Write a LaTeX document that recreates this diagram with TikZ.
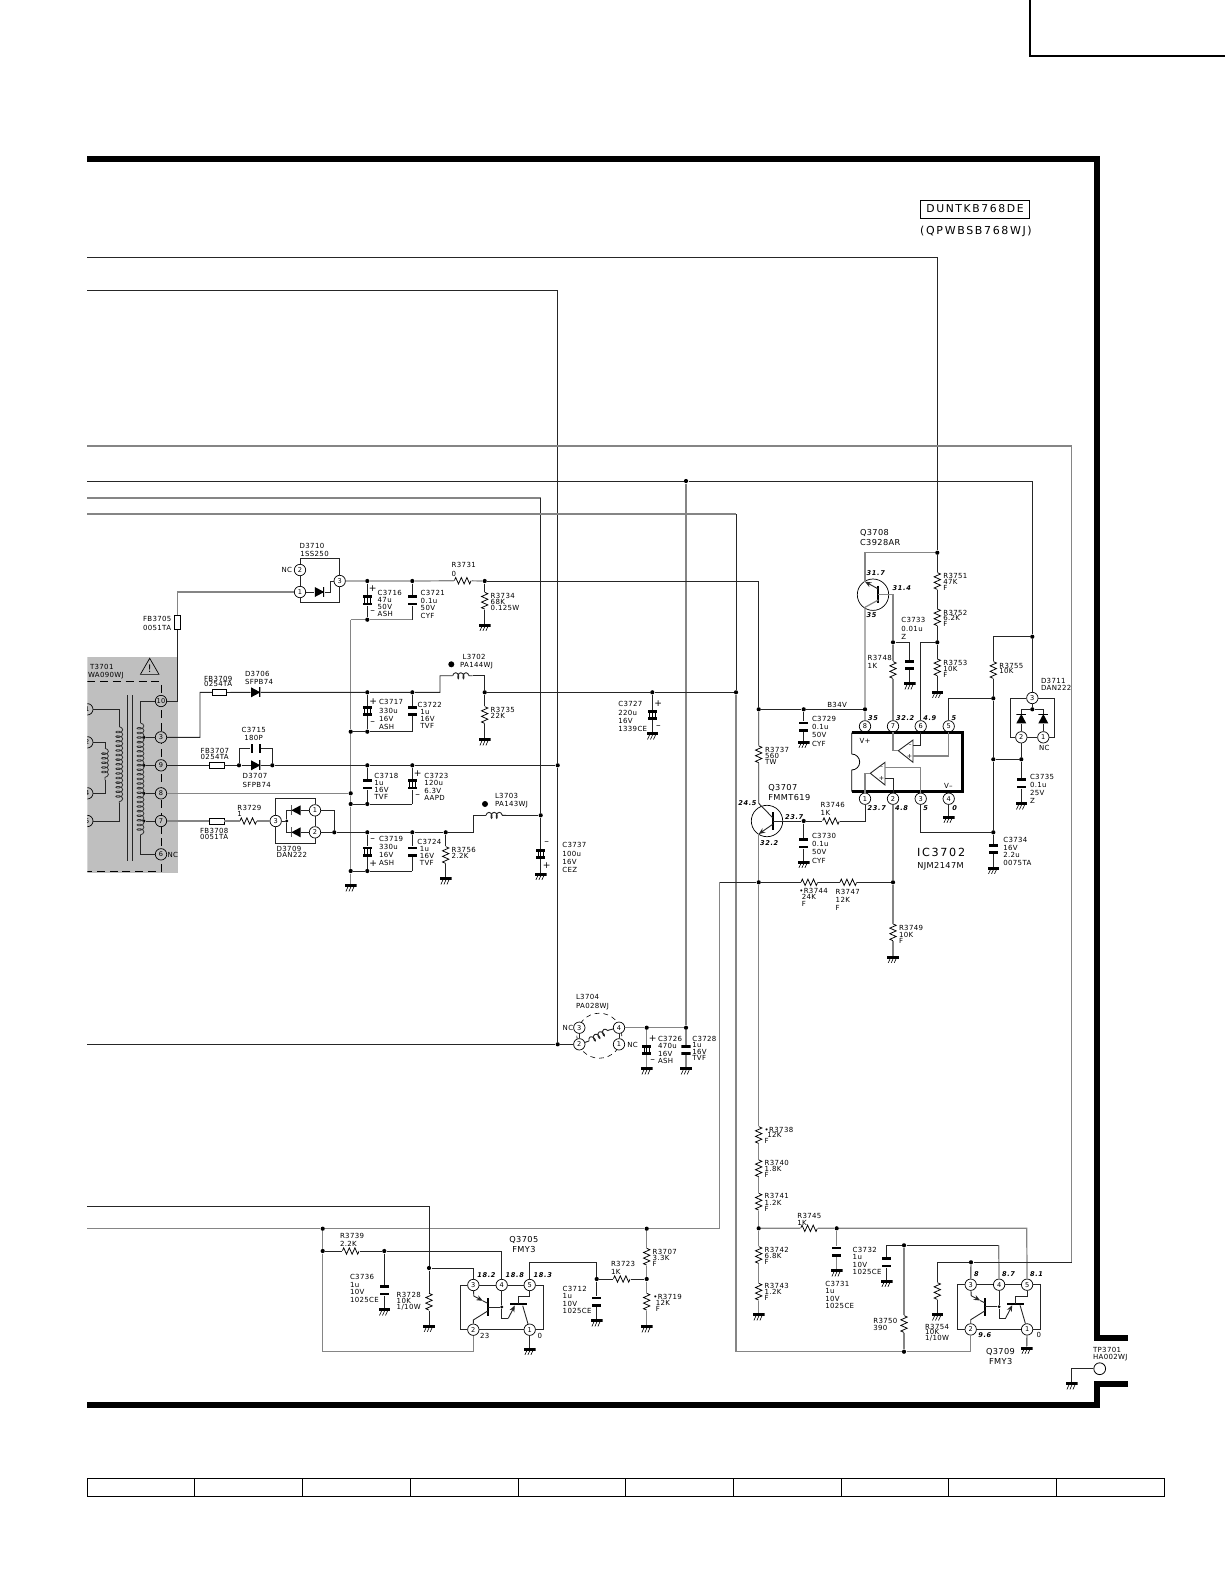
\documentclass[tikz,border=0pt]{standalone}
\usepackage{fontspec}
\setmainfont[LetterSpace=5]{DejaVu Sans}
\newfontfamily\voltfont[LetterSpace=10]{DejaVu Sans}
\newfontfamily\widefont[LetterSpace=15]{DejaVu Sans}
\usetikzlibrary{arrows.meta,decorations.pathmorphing,shapes.geometric}
\definecolor{boxgray}{gray}{0.75}
\def\bb{path picture bounding box}
\newcommand{\lab}[4][3.5]{\node[txt,font=\fontsize{3.5}{#1}\selectfont] (#2) at (#3) {#4};}
\newcommand{\blab}[3]{\node[txt,yshift=.4pt,font=\fontsize{4.1}{5}\selectfont] (#1) at (#2) {#3};}
\newcommand{\volt}[3]{\node[txt,font=\fontsize{3.3}{4}\voltfont\bfseries\itshape] (#1) at (#2) {#3};}
\newcommand{\sgn}[3]{\node[inner sep=0pt,font=\fontsize{4.6}{5}\selectfont] (#1) at (#2) {#3};}
\begin{document}
\begin{tikzpicture}[x=.5pt,y=-.5pt,
    wire/.style = {line width=.45pt,black!85},
    gwire/.style = {line width=.6pt,black!48},
    frameline/.style = {line width=3pt,black,line join=miter},
    txt/.style = {anchor=north west,inner sep=0pt,outer sep=0pt,align=left,yshift=1.25pt},
    jdot/.style = {circle,fill=black,inner sep=0pt,minimum size=2.1pt},
    pinc/.style = {circle,draw,fill=white,line width=.35pt,inner sep=0pt,minimum size=5.7pt,font=\fontsize{3.3}{4}\selectfont},
    fbh/.style = {rectangle,draw,line width=.35pt,inner sep=0pt,minimum width=7.2pt,minimum height=3.1pt},
    fbv/.style = {rectangle,draw,line width=.35pt,inner sep=0pt,minimum width=2.8pt,minimum height=7pt},
    resv/.style = {rectangle,inner sep=0pt,minimum width=4pt,minimum height=8.4pt,path picture={
        \draw[line width=.38pt] (\bb.north) -- ++(1.6pt,-.7pt) -- ++(-3.2pt,-1.4pt) -- ++(3.2pt,-1.4pt) -- ++(-3.2pt,-1.4pt) -- ++(3.2pt,-1.4pt) -- ++(-3.2pt,-1.4pt) -- ++(1.6pt,-.7pt);}},
    resh/.style = {rectangle,inner sep=0pt,minimum width=8.4pt,minimum height=4pt,path picture={
        \draw[line width=.38pt] (\bb.west) -- ++(.7pt,1.6pt) -- ++(1.4pt,-3.2pt) -- ++(1.4pt,3.2pt) -- ++(1.4pt,-3.2pt) -- ++(1.4pt,3.2pt) -- ++(1.4pt,-3.2pt) -- ++(.7pt,1.6pt);}},
    capn/.style = {rectangle,inner sep=0pt,minimum width=4.7pt,minimum height=4.9pt,path picture={
        \fill (\bb.north west) rectangle ([yshift=-1.25pt]\bb.north east);
        \fill (\bb.south west) rectangle ([yshift=1.25pt]\bb.south east);}},
    capp/.style = {rectangle,inner sep=0pt,minimum width=4.7pt,minimum height=4.9pt,path picture={
        \fill (\bb.north west) rectangle ([yshift=-1.25pt]\bb.north east);
        \fill (\bb.south west) rectangle ([yshift=1.25pt]\bb.south east);
        \draw[line width=.35pt] ([xshift=1pt]\bb.north west) -- ([xshift=1pt]\bb.south west);
        \draw[line width=.35pt] (\bb.north) -- (\bb.south);
        \draw[line width=.35pt] ([xshift=-1pt]\bb.north east) -- ([xshift=-1pt]\bb.south east);}},
    caph/.style = {rectangle,inner sep=0pt,minimum width=5.2pt,minimum height=4.7pt,path picture={
        \fill (\bb.north west) rectangle ([xshift=1pt]\bb.south west);
        \fill (\bb.north east) rectangle ([xshift=-1pt]\bb.south east);}},
    gnd/.style = {rectangle,anchor=north,inner sep=0pt,minimum width=5.8pt,minimum height=3.5pt,path picture={
        \fill (\bb.north west) rectangle ([yshift=-1.35pt]\bb.north east);
        \draw[line width=.3pt] ([xshift=1.5pt,yshift=-1.3pt]\bb.north west) -- ([xshift=.5pt]\bb.south west);
        \draw[line width=.3pt] ([xshift=3pt,yshift=-1.3pt]\bb.north west) -- ([xshift=2pt]\bb.south west);
        \draw[line width=.3pt] ([xshift=4.5pt,yshift=-1.3pt]\bb.north west) -- ([xshift=3.5pt]\bb.south west);}},
    dioder/.style = {rectangle,inner sep=0pt,minimum width=4.7pt,minimum height=5pt,path picture={
        \fill (\bb.north west) -- (\bb.east) -- (\bb.south west) -- cycle;
        \draw[line width=1pt] (\bb.north east) -- (\bb.south east);}},
    diodel/.style = {rectangle,inner sep=0pt,minimum width=4.7pt,minimum height=5pt,path picture={
        \fill (\bb.north east) -- (\bb.west) -- (\bb.south east) -- cycle;
        \draw[line width=1pt] (\bb.north west) -- (\bb.south west);}},
    diodeu/.style = {rectangle,inner sep=0pt,minimum width=5pt,minimum height=4.7pt,path picture={
        \fill (\bb.south west) -- (\bb.north) -- (\bb.south east) -- cycle;
        \draw[line width=1pt] (\bb.north west) -- (\bb.north east);}},
    coilw/.style = {line width=.45pt,black!85,decorate,decoration={coil,aspect=.55,amplitude=1.5pt,segment length=2.6pt}},
    coilt/.style = {line width=.4pt,black!80,decorate,decoration={coil,aspect=.55,amplitude=1.7pt,segment length=2.3pt}},
    tbar/.style = {line width=1pt,black},
    tarrow/.style = {wire,-{Stealth[length=3.2pt,width=2.6pt]}},
    qcirc/.style = {circle,draw,line width=.35pt,inner sep=0pt,minimum size=15.7pt},
    warn/.style = {regular polygon,regular polygon sides=3,draw,line width=.35pt,inner sep=0pt,minimum size=10pt,font=\fontsize{5.2}{6}\selectfont},
    pics/fmy/.style = {code={
        \node[pinc] (p3) at (0,0) {3};
        \node[pinc] (p4) at (28.4,0) {4};
        \node[pinc] (p5) at (56.4,0) {5};
        \node[pinc] (p2) at (0,44.7) {2};
        \node[pinc] (p1) at (56.4,44.7) {1};
        \node[jdot,minimum size=1.6pt] (bd) at (28.4,22) {};
        \coordinate (tl) at (-13.3,0);
        \coordinate (bl) at (-13.3,44.7);
        \coordinate (tr) at (70,0);
        \coordinate (br) at (70,44.7);
        \draw[wire] (p3) -- (p4) -- (p5) -- (tr) -- (br) -- (p1) -- (p2) -- (bl) -- (tl) -- (p3);
        \draw[tbar] (14.4,13.3) -- (14.4,31);
        \draw[tbar] (36.7,19.3) -- (53.4,19.3);
        \draw[tarrow] (p3) -- (.5,11) -- (9.5,15.8);
        \draw[wire] (9.5,15.8) -- (14.4,18.3);
        \draw[wire] (14.4,26) -- (0,35) -- (p2);
        \draw[wire] (14.4,22) -- (bd);
        \draw[wire] (p4) -- (bd) -- (28.4,33.3) -- (35,33.3);
        \draw[tarrow] (35,33.3) -- (41.5,20.5);
        \draw[wire] (p5) -- (56.4,11.7) -- (45,11.7) -- (45,19.3);
        \draw[wire] (49.4,20.7) -- (p1);
    }}]
\useasboundingbox (0,0) rectangle (1225,1585);
\draw[line width=.8pt] (1030,0) -- (1030,56) -- (1225,56);
\draw[frameline] (87,159) -- (1097,159) -- (1097,1338) -- (1128,1338);
\draw[frameline] (87,1405) -- (1097,1405) -- (1097,1384) -- (1128,1384);
\draw[line width=.45pt] (87,1478) rectangle (1164,1496);
\draw[line width=.45pt] (194.7,1478) -- (194.7,1496) (302.4,1478) -- (302.4,1496) (410.1,1478) -- (410.1,1496) (518,1478) -- (518,1496) (625.5,1478) -- (625.5,1496) (733.3,1478) -- (733.3,1496) (841,1478) -- (841,1496) (948.7,1478) -- (948.7,1496) (1056.3,1478) -- (1056.3,1496);
\node[draw,line width=.4pt,inner sep=0pt,minimum width=54.5pt,minimum height=9pt,font=\fontsize{5.4}{6}\widefont] (duntbox) at (975,209) {DUNTKB768DE};
\node[inner sep=0pt,font=\fontsize{5.5}{6}\widefont] (qpwb) at (976,231) {(QPWBSB768WJ)};

\begin{scope}
\clip (87.3,650) rectangle (180,880);
\fill[boxgray] (87.3,657) rectangle (178,872.7);
\draw[line width=.4pt,dash pattern=on 4pt off 2.4pt] (87.3,681.7) -- (161,681.7) -- (161,871.7) -- (87.3,871.7);
\node[warn] (warn1) at (149.7,669) {!};
\lab{t3701t}{90,666.7}{T3701}
\lab{t3701m}{88,675}{WA090WJ}
\node[pinc,fill=boxgray] (t10) at (161,701) {10};
\node[pinc,fill=boxgray] (t3) at (161,737.3) {3};
\node[pinc,fill=boxgray] (t9) at (161,765.3) {9};
\node[pinc,fill=boxgray] (t8) at (161,793.3) {8};
\node[pinc,fill=boxgray] (t7) at (161,821) {7};
\node[pinc,fill=boxgray] (t6) at (161,854.3) {6};
\node[pinc,fill=boxgray] (t1) at (87.3,709.3) {1};
\node[pinc,fill=boxgray] (t2) at (87.3,742.3) {2};
\node[pinc,fill=boxgray] (t4) at (87.3,793.3) {4};
\node[pinc,fill=boxgray] (t5) at (87.3,821) {5};
\node[jdot,minimum size=1.7pt] (tap3) at (144,737.3) {};
\node[jdot,minimum size=1.7pt] (tap9) at (144,765.3) {};
\node[jdot,minimum size=1.7pt] (tap8) at (144,793.3) {};
\node[jdot,minimum size=1.7pt] (tap7) at (144,821) {};
\coordinate (coil1a) at (119.3,726.7);
\coordinate (coil1b) at (119.3,803.3);
\coordinate (coil2a) at (105,748.3);
\coordinate (coil2b) at (105,780);
\coordinate (coil3a) at (140.5,723);
\coordinate (coil3b) at (140.5,835);
\coordinate (core1a) at (127.3,695);
\coordinate (core1b) at (127.3,860.7);
\coordinate (core2a) at (132.3,695);
\coordinate (core2b) at (132.3,860.7);
\draw[wire] (core1a) -- (core1b);
\draw[wire] (core2a) -- (core2b);
\draw[coilt] (coil1a) -- (coil1b);
\draw[coilt] (coil2a) -- (coil2b);
\draw[coilt] (coil3a) -- (coil3b);
\draw[wire] (t1) -| (coil1a);
\draw[wire] (coil1b) |- (t5);
\draw[wire] (t2) -| (coil2a);
\draw[wire] (coil2b) |- (t4);
\draw[wire] (t10) -| (coil3a);
\draw[wire] (coil3b) |- (t6);
\draw[wire] (tap3) -- (t3);
\draw[wire] (tap9) -- (t9);
\draw[wire] (tap8) -- (t8);
\draw[wire] (tap7) -- (t7);
\end{scope}
\lab{t6nc}{167.5,854.3}{NC}

\coordinate (w257) at (87,257);
\coordinate (w290) at (87,290);
\coordinate (w446) at (87,446);
\coordinate (w481) at (87,481);
\coordinate (w498) at (87,498);
\coordinate (w514) at (87,514);
\coordinate (w1044) at (87,1044.3);
\coordinate (w1206) at (87,1206.3);
\coordinate (w1229) at (87,1228.7);

\node[pinc] (d3710p2) at (300,570) {2};
\node[pinc] (d3710p1) at (300,592) {1};
\node[pinc] (d3710p3) at (339.7,581) {3};
\node[dioder] (d3710) at (319.5,592) {};
\coordinate (d3710tl) at (300,558.3);
\coordinate (d3710bl) at (300,602.7);
\coordinate (d3710c) at (330,592);
\draw[wire] (d3710p2) -- (d3710p1);
\draw[wire] (d3710p2) -- (d3710tl) -| (d3710p3);
\draw[wire] (d3710p1) -- (d3710bl) -| (d3710p3);
\draw[wire] (d3710p1) -- (d3710) -- (d3710c) |- (d3710p3);
\lab{d3710t}{299.7,545.7}{D3710}
\lab{d3710m}{300.3,553.7}{1SS250}
\lab{d3710nc}{281.5,569.3}{NC}
\node[fbv] (fb3705) at (177.3,622.5) {};
\lab[4.3]{fb3705t}{143,619}{FB3705\\0051TA}
\draw[gwire] (d3710p1) -| (fb3705);
\draw[wire] (fb3705) |- (t10);

\node[jdot] (n3716t) at (367.3,581) {};
\node[jdot] (n3721t) at (412.3,581) {};
\node[jdot] (n3716b) at (367.3,619.7) {};
\coordinate (n3721b) at (412.3,619.7);
\node[capp] (c3716) at (367.3,600.3) {};
\node[capn] (c3721) at (412.3,600.3) {};
\node[resh] (r3731) at (462.7,580.7) {};
\node[jdot] (n3734t) at (484.7,581) {};
\node[resv] (r3734) at (484.7,600.7) {};
\node[gnd] (g3734) at (484.7,623.5) {};
\draw[gwire] (d3710p3) -- (n3716t) -- (n3721t) -- (r3731) -- (n3734t);
\draw[wire] (n3716t) -- (c3716) -- (n3716b);
\draw[wire] (n3721t) -- (c3721) -- (n3721b);
\draw[wire] (n3734t) -- (r3734) -- (g3734);
\sgn{c3716p}{372.7,589}{+}
\lab{c3716l}{377.7,592.7}{C3716\\47u\\50V\\ASH}
\sgn{c3716m}{372.7,611.7}{–}
\lab[3.85]{c3721l}{420.7,592.7}{C3721\\0.1u\\50V\\CYF}
\lab[4.3]{r3731l}{451.7,564.7}{R3731\\0}
\lab[3]{r3734l}{490.7,595.7}{R3734\\68K\\0.125W}

\coordinate (c350t) at (350.7,619.7);
\node[jdot] (n350a) at (350.7,731.7) {};
\node[jdot] (n350b) at (350.7,793.3) {};
\node[jdot] (n350c) at (350.7,804) {};
\node[jdot] (n350d) at (350.7,871) {};
\node[gnd] (g350) at (350.7,884) {};
\draw[gwire] (n3721b) -- (n3716b) -- (c350t);
\draw[gwire] (c350t) -- (n350a) -- (n350b) -- (n350c) -- (n350d) -- (g350);

\node[fbh] (fb3709) at (219.5,692.5) {};
\node[dioder] (d3706) at (255.7,692.3) {};
\node[jdot] (n3717t) at (367.3,692.3) {};
\node[jdot] (n3722t) at (412.3,692.3) {};
\node[jdot] (n3717b) at (367.3,731.7) {};
\coordinate (n3722b) at (412.3,731.7);
\node[capp] (c3717) at (367.3,711) {};
\node[capn] (c3722) at (412.3,711) {};
\coordinate (fb3709c) at (200,692.3);
\coordinate (l3702u) at (440,692.3);
\coordinate (l3702a) at (452.7,675.7);
\coordinate (l3702b) at (472.7,675.7);
\node[jdot] (n3735t) at (484.7,692.3) {};
\node[resv] (r3735) at (484.7,715) {};
\node[gnd] (g3735) at (484.7,738) {};
\draw[wire] (t3) -| (fb3709c) -- (fb3709);
\draw[wire] (fb3709) -- (d3706) -- (n3717t) -- (n3722t) -- (l3702u) |- (l3702a);
\draw[coilw] (l3702a) -- (l3702b);
\draw[wire] (l3702b) -| (n3735t);
\draw[wire] (n3735t) -- (r3735) -- (g3735);
\draw[wire] (n3717t) -- (c3717) -- (n3717b);
\draw[wire] (n3722t) -- (c3722) -- (n3722b);
\draw[wire] (n350a) -- (n3717b) -- (n3722b);
\lab[2.9]{fb3709l}{204,678.3}{FB3709\\0254TA}
\lab[4.1]{d3706l}{245,674}{D3706\\SFPB74}
\sgn{c3717p}{373.3,701.3}{+}
\lab[4.2]{c3717l}{379,702}{C3717\\330u\\16V\\ASH}
\sgn{c3717m}{372.7,723.3}{–}
\lab[3.4]{c3722l}{417.7,705}{C3722\\\ 1u\\\ 16V\\\ TVF}
\node[circle,fill=black,inner sep=0pt,minimum size=3pt] (l3702dot) at (451.3,664.3) {};
\lab[3.8]{l3702l}{460,656.7}{\ L3702\\PA144WJ}
\lab[2.7]{r3735l}{490.7,710}{R3735\\22K}

\node[fbh] (fb3707) at (216.7,765.3) {};
\node[jdot] (n3715a) at (239,765.3) {};
\node[dioder] (d3707) at (255.7,765.3) {};
\node[jdot] (n3715b) at (272.3,765.3) {};
\node[caph] (c3715) at (255.7,748.7) {};
\node[jdot] (n3718t) at (367.3,765.3) {};
\node[jdot] (n3723t) at (412.3,765.3) {};
\node[jdot] (n3718b) at (367.3,804) {};
\coordinate (n3723b) at (412.3,804);
\node[capn] (c3718) at (367.3,784.3) {};
\node[capp] (c3723) at (412.3,784.3) {};
\node[jdot] (n558a) at (557.7,765.3) {};
\draw[wire] (t9) -- (fb3707) -- (n3715a) -- (d3707) -- (n3715b) -- (n3718t) -- (n3723t) -- (n558a);
\draw[wire] (n3715a) |- (c3715);
\draw[wire] (c3715) -| (n3715b);
\draw[wire] (n3718t) -- (c3718) -- (n3718b);
\draw[wire] (n3723t) -- (c3723) -- (n3723b);
\draw[wire] (n350c) -- (n3718b) -- (n3723b);
\draw[gwire] (t8) -- (n350b);
\lab[2.8]{fb3707l}{200.7,750.7}{FB3707\\0254TA}
\lab[4.2]{c3715l}{241.7,729.7}{C3715\\\ 180P}
\lab[4.2]{d3707l}{242.7,776}{D3707\\SFPB74}
\lab[3.5]{c3718l}{374.3,776}{C3718\\1u\\16V\\TVF}
\sgn{c3723p}{417.7,773.7}{+}
\lab[3.6]{c3723l}{424.3,776}{C3723\\120u\\6.3V\\AAPD}
\sgn{c3723m}{417.7,795.7}{–}

\node[fbh] (fb3708) at (216.7,821) {};
\node[resh] (r3729) at (248.3,821) {};
\node[pinc] (d3709p3) at (275.7,821) {3};
\node[pinc] (d3709p1) at (315,810.3) {1};
\node[pinc] (d3709p2) at (315,832.3) {2};
\node[jdot,minimum size=1.7pt] (d3709j) at (286.7,821) {};
\node[diodel] (d3709a) at (296,810.3) {};
\node[diodel] (d3709b) at (296,832.3) {};
\coordinate (d3709tl) at (275.7,798.7);
\coordinate (d3709bl) at (275.7,843.3);
\coordinate (d3709r) at (334.3,810.3);
\node[jdot] (n3709r) at (334.3,832.3) {};
\draw[gwire] (t7) -- (fb3708) -- (r3729) -- (d3709p3);
\draw[wire] (d3709p3) -- (d3709j);
\draw[wire] (d3709j) |- (d3709a);
\draw[wire] (d3709j) |- (d3709b);
\draw[wire] (d3709a) -- (d3709p1);
\draw[wire] (d3709b) -- (d3709p2);
\draw[wire] (d3709p3) -- (d3709tl) -| (d3709p1);
\draw[wire] (d3709p3) -- (d3709bl) -| (d3709p2);
\draw[wire] (d3709p1) -- (d3709p2);
\draw[wire] (d3709p1) -- (d3709r) -- (n3709r) -- (d3709p2);
\lab[3]{r3729l}{237.3,807.3}{R3729\\1}
\lab[3]{fb3708l}{200,830.7}{FB3708\\0051TA}
\lab[3.4]{d3709l}{276.7,848.3}{D3709\\DAN222}
\node[jdot] (n3719t) at (367.3,832.3) {};
\node[jdot] (n3724t) at (412.3,832.3) {};
\node[jdot] (n3756t) at (445.7,832.3) {};
\node[jdot] (n3719b) at (367.3,871) {};
\coordinate (n3724b) at (412.3,871);
\node[capp] (c3719) at (367.3,851.7) {};
\node[capn] (c3724) at (412.3,851.7) {};
\node[resv] (r3756) at (445.7,855) {};
\node[gnd] (g3756) at (445.7,877) {};
\coordinate (l3703d) at (473.3,832.3);
\coordinate (l3703a) at (486,815.3);
\coordinate (l3703b) at (506,815.3);
\node[jdot] (n3737t) at (540.7,815.3) {};
\draw[wire] (n3709r) -- (n3719t) -- (n3724t) -- (n3756t) -- (l3703d) |- (l3703a);
\draw[coilw] (l3703a) -- (l3703b);
\draw[wire] (l3703b) -- (n3737t);
\draw[wire] (n3719t) -- (c3719) -- (n3719b);
\draw[wire] (n3724t) -- (c3724) -- (n3724b);
\draw[wire] (n3756t) -- (r3756) -- (g3756);
\draw[wire] (n350d) -- (n3719b) -- (n3724b);
\sgn{c3719m}{372.7,840}{–}
\lab[4]{c3719l}{379,839}{C3719\\330u\\16V\\ASH}
\sgn{c3719p}{373.3,863.3}{+}
\lab[3.5]{c3724l}{417.3,841.7}{C3724\\\ 1u\\\ 16V\\\ TVF}
\lab[2.9]{r3756l}{451.7,850}{R3756\\2.2K}
\node[circle,fill=black,inner sep=0pt,minimum size=3pt] (l3703dot) at (485,804) {};
\lab[3.8]{l3703l}{495,796}{L3703\\PA143WJ}

\node[capp] (c3737) at (540.7,854) {};
\node[gnd] (g3737) at (540.7,872.5) {};
\coordinate (c498) at (540.7,498);
\draw[gwire] (w498) -- (c498);
\draw[wire] (c498) -- (n3737t);
\draw[wire] (n3737t) -- (c3737) -- (g3737);
\sgn{c3737m}{546.7,843.3}{–}
\sgn{c3737p}{546.7,865.7}{+}
\lab[4.2]{c3737l}{562.3,845}{C3737\\100u\\16V\\CEZ}

\node[jdot] (n558b) at (557.7,1044.3) {};
\draw[wire] (w290) -| (n558a);
\draw[wire] (n558a) -- (n558b);

\node[circle,draw,line width=.3pt,dash pattern=on 2.4pt off 2pt,inner sep=0pt,minimum size=22.5pt] (l3704c) at (599.3,1035.7) {};
\node[pinc] (l3704p3) at (579.3,1027.7) {3};
\node[pinc] (l3704p2) at (579.3,1044.3) {2};
\node[pinc] (l3704p4) at (619,1027.7) {4};
\node[pinc] (l3704p1) at (619,1044.3) {1};
\coordinate (l3704a) at (589,1041);
\coordinate (l3704b) at (609,1030);
\draw[wire] (l3704p3) -- (l3704p2);
\draw[wire] (l3704p4) -- (l3704p1);
\draw[wire] (l3704p2) -- (l3704a);
\draw[coilw] (l3704a) -- (l3704b);
\draw[wire] (l3704b) -- (l3704p4);
\draw[wire] (w1044) -- (n558b) -- (l3704p2);
\node[jdot] (n3726t) at (646.7,1027.7) {};
\node[jdot] (n3728t) at (686,1027.7) {};
\node[capp] (c3726) at (646.7,1050) {};
\node[capn] (c3728) at (686,1050) {};
\node[gnd] (g3726) at (646.7,1067) {};
\node[gnd] (g3728) at (686,1067) {};
\draw[gwire] (l3704p4) -- (n3726t) -- (n3728t);
\draw[gwire] (n3726t) -- (c3726) -- (g3726);
\draw[gwire] (n3728t) -- (c3728) -- (g3728);
\lab[4.6]{l3704l}{576,996.3}{L3704\\PA028WJ}
\lab{l3704n}{562.7,1027.7}{NC}
\lab{l3704o}{627.3,1044.3}{NC}
\sgn{c3726p}{652.7,1038.7}{+}
\lab[3.7]{c3726l}{658,1038.7}{C3726\\470u\\16V\\ASH}
\sgn{c3726m}{652.7,1060.7}{–}
\lab[3.2]{c3728l}{692.3,1038.7}{C3728\\1u\\16V\\TVF}

\node[jdot] (n481) at (686,481) {};
\node[jdot] (n1032) at (1032.3,636.7) {};
\node[pinc] (d3711p3) at (1032.3,698) {3};
\draw[wire] (w481) -- (n481) -| (n1032);
\draw[wire] (n1032) -- (d3711p3);
\draw[gwire] (n481) -- (n3728t);
\node[jdot] (n514) at (736,692.3) {};
\node[jdot] (n3727t) at (652.3,692.3) {};
\node[capp] (c3727) at (652.3,715) {};
\node[gnd] (g3727) at (652.3,732) {};
\node[jdot] (n736b) at (904,1351.7) {};
\coordinate (c514) at (736,1351.7);
\coordinate (c514t) at (736,514);
\draw[wire] (n3735t) -- (n3727t) -- (n514);
\draw[wire] (n3727t) -- (c3727) -- (g3727);
\draw[gwire] (w514) -- (c514t);
\draw[wire] (c514t) -- (n514);
\draw[gwire] (n514) -- (c514);
\lab[4.2]{c3727l}{618.3,704}{C3727\\220u\\16V\\1339CE}
\sgn{c3727p}{658.3,703.3}{+}
\sgn{c3727m}{658.3,726.7}{–}

\node[jdot] (n3737a) at (758.7,709.3) {};
\node[resv] (r3737) at (758.7,754.3) {};
\coordinate (q3707ca) at (758.7,803.3);
\coordinate (q3707ea) at (758.7,834);
\coordinate (q3707b1) at (772.7,812.3);
\coordinate (q3707b2) at (772.7,830);
\coordinate (q3707cb) at (772.7,817.7);
\coordinate (q3707eb) at (772.7,824.3);
\coordinate (q3707bm) at (772.7,821);
\node[qcirc] (q3707) at (767,821) {};
\node[jdot] (n3730t) at (803.7,821) {};
\node[capn] (c3730) at (803.7,843.3) {};
\node[gnd] (g3730) at (803.7,860.5) {};
\node[resh] (r3746) at (831,821) {};
\node[pinc] (ic1) at (865,798.7) {1};
\draw[tbar] (q3707b1) -- (q3707b2);
\draw[wire] (n3734t) -| (n3737a);
\draw[wire] (n3737a) -- (r3737) -- (q3707ca) -- (q3707cb);
\draw[tarrow] (q3707eb) -- (q3707ea);
\draw[wire] (q3707bm) -- (n3730t) -- (r3746);
\draw[wire] (r3746) -| (ic1);
\draw[wire] (n3730t) -- (c3730) -- (g3730);
\lab[3]{r3737l}{765,749.3}{R3737\\560\\TW}
\blab{q3707t}{768.3,788}{Q3707\\FMMT619}
\volt{v245}{738.3,803.3}{24.5}
\volt{v237a}{785,816.7}{23.7}
\volt{v322a}{760,843.3}{32.2}
\lab[4.1]{r3746l}{820.7,805}{R3746\\1K}
\lab[4.1]{c3730l}{812,835.7}{C3730\\0.1u\\50V\\CYF}

\node[jdot] (n3729t) at (803.7,709.3) {};
\node[capn] (c3729) at (803.7,726.7) {};
\node[gnd] (g3729) at (803.7,740.5) {};
\node[jdot] (n865) at (865,709.3) {};
\draw[wire] (n3737a) -- (n3729t) -- (n865);
\draw[wire] (n3729t) -- (c3729) -- (g3729);
\lab{b34v}{827.3,705}{B34V}
\lab[4.1]{c3729l}{812,718.7}{C3729\\0.1u\\50V\\CYF}

\node[pinc] (ic8) at (865,726.3) {8};
\node[pinc] (ic7) at (893,726.3) {7};
\node[pinc] (ic6) at (920.7,726.3) {6};
\node[pinc] (ic5) at (948.7,726.3) {5};
\node[pinc] (ic2) at (893,798.7) {2};
\node[pinc] (ic3) at (920.7,798.7) {3};
\node[pinc] (ic4) at (948.7,798.7) {4};
\coordinate (ictl) at (851.7,732.7);
\coordinate (ictr) at (962.3,732.7);
\coordinate (icbr) at (962.3,791.7);
\coordinate (icbl) at (851.7,791.7);
\draw[line width=1.6pt,line join=miter] (ictl) -- (ictr) -- (icbr) -- (icbl);
\draw[line width=.4pt] (ictl) -- (851.7,754) arc (-90:90:8) -- (icbl);
\lab{icvp}{859.5,741}{V+}
\lab{icvm}{944,785.7}{V–}
\coordinate (oa1t) at (913,740);
\coordinate (oa1b) at (913,762.3);
\coordinate (oa1o) at (898.3,750.7);
\coordinate (oa1m) at (913,745.7);
\coordinate (oa1p) at (913,756);
\coordinate (oa2t) at (885,762.3);
\coordinate (oa2b) at (885,785);
\coordinate (oa2o) at (870.3,773.3);
\coordinate (oa2m) at (885,767.7);
\coordinate (oa2p) at (885,778.3);
\draw[wire] (oa1t) -- (oa1o) -- (oa1b) -- cycle;
\draw[wire] (oa2t) -- (oa2o) -- (oa2b) -- cycle;
\sgn{oa1mm}{910,746}{\fontsize{3}{3}\selectfont –}
\sgn{oa1pp}{909.5,756}{\fontsize{3.2}{3}\selectfont +}
\sgn{oa2mm}{881.5,767.7}{\fontsize{3}{3}\selectfont –}
\sgn{oa2pp}{881.5,778.3}{\fontsize{3.2}{3}\selectfont +}
\draw[gwire] (ic7) |- (oa1o);
\draw[wire] (ic6) |- (oa1m);
\draw[gwire] (ic5) |- (oa1p);
\draw[gwire] (ic1) |- (oa2o);
\draw[gwire] (oa2m) -| (ic3);
\draw[wire] (oa2p) -| (ic2);

\coordinate (q3708ca) at (865,607.3);
\coordinate (q3708ea) at (865,581.7);
\coordinate (q3708b1) at (878.3,585.7);
\coordinate (q3708b2) at (878.3,603.3);
\coordinate (q3708cb) at (878.3,600);
\coordinate (q3708eb) at (878.3,589);
\coordinate (q3708bm) at (878.3,594.7);
\node[qcirc] (q3708) at (873,594.7) {};
\node[jdot] (n3751t) at (937.3,552.7) {};
\node[resv] (r3751) at (937.3,581) {};
\node[resv] (r3752) at (937.3,617.3) {};
\node[jdot] (n3753t) at (937.3,642.3) {};
\node[resv] (r3753) at (937.3,667.3) {};
\node[gnd] (g3753) at (937.3,690.5) {};
\node[jdot] (n3748t) at (893,642.3) {};
\node[resv] (r3748) at (893,670) {};
\coordinate (c3733t) at (909.7,642.3);
\node[capn] (c3733) at (909.7,665) {};
\node[gnd] (g3733) at (909.7,682) {};
\coordinate (c920) at (920.7,642.3);
\coordinate (q3708top) at (865,552.7);
\draw[tbar] (q3708b1) -- (q3708b2);
\draw[wire] (w257) -| (n3751t);
\draw[wire] (n3751t) -- (r3751) -- (r3752) -- (n3753t) -- (r3753) -- (g3753);
\draw[gwire] (n3751t) -- (q3708top) -- (q3708ea);
\draw[tarrow] (q3708eb) -- (q3708ea);
\draw[gwire] (q3708cb) -- (q3708ca) -- (n865) -- (ic8);
\draw[gwire] (q3708bm) -| (n3748t);
\draw[gwire] (n3748t) -- (r3748) -- (ic7);
\draw[wire] (n3748t) -- (c3733t) -- (c3733) -- (g3733);
\draw[wire] (n3753t) -- (c920) -- (ic6);
\blab{q3708t}{860,532.7}{Q3708\\C3928AR}
\volt{v317}{866.7,572.7}{31.7}
\volt{v314}{892.7,587.7}{31.4}
\volt{v35a}{866.7,615.3}{35}
\lab[4.2]{c3733l}{901.3,620}{C3733\\0.01u\\Z}
\lab[3.8]{r3748l}{867.7,657.7}{R3748\\1K}
\lab[2.9]{r3751l}{943.3,576}{R3751\\47K\\F}
\lab[2.9]{r3752l}{943.3,612.3}{R3752\\6.2K\\F}
\lab[2.9]{r3753l}{943.3,662.7}{R3753\\10K\\F}
\volt{v35b}{868,718.3}{35}
\volt{v322b}{896,718.3}{32.2}
\volt{v49}{923.3,718.3}{4.9}
\volt{v5a}{951.7,718.3}{5}
\volt{v237b}{867.7,807.7}{23.7}
\volt{v48}{895,807.7}{4.8}
\volt{v5b}{923.3,807.7}{5}
\volt{v0a}{952.3,807.7}{0}

\node[jdot] (n3755a) at (993.3,698.3) {};
\node[jdot] (n3755b) at (993.3,759.3) {};
\node[jdot] (n3755c) at (993.3,832.3) {};
\coordinate (n3755t) at (993.3,636.7);
\node[resv] (r3755) at (993.3,670) {};
\node[capn] (c3734) at (993.3,849) {};
\node[gnd] (g3734b) at (993.3,866.5) {};
\node[gnd] (g4) at (948.7,815.5) {};
\coordinate (c5corner) at (948.7,698.3);
\coordinate (c3corner) at (920.7,832.3);
\draw[wire] (n1032) -- (n3755t) -- (r3755) -- (n3755a) -- (n3755b) -- (n3755c) -- (c3734) -- (g3734b);
\draw[wire] (ic5) -- (c5corner) -- (n3755a);
\draw[wire] (ic3) -- (c3corner) -- (n3755c);
\draw[wire] (ic4) -- (g4);
\lab[2.9]{r3755l}{999.3,665.3}{R3755\\10K}
\lab[3.85]{c3734l}{1003.3,839.7}{C3734\\16V\\2.2u\\0075TA}
\node[inner sep=0pt,anchor=west,font=\fontsize{5.6}{6}\widefont] (ic3702t) at (916.7,852.3) {IC3702};
\blab{ic3702m}{917.3,866}{NJM2147M}

\node[pinc] (d3711p2) at (1021.3,737.3) {2};
\node[pinc] (d3711p1) at (1043.3,737.3) {1};
\node[jdot] (d3711j) at (1032.3,709.3) {};
\node[diodeu] (d3711a) at (1021.3,718.7) {};
\node[diodeu] (d3711b) at (1043.3,718.7) {};
\node[jdot] (n3735b) at (1021.3,759.3) {};
\node[capn] (c3735) at (1021.3,783.3) {};
\node[gnd] (g3735b) at (1021.3,802) {};
\coordinate (d3711tl) at (1010,698);
\coordinate (d3711bl) at (1010,737.3);
\coordinate (d3711tr) at (1054.3,698);
\coordinate (d3711br) at (1054.3,737.3);
\draw[wire] (d3711p3) -- (d3711tl) -- (d3711bl) -- (d3711p2) -- (d3711p1) -- (d3711br) -- (d3711tr) -- (d3711p3);
\draw[wire] (d3711p3) -- (d3711j);
\draw[wire] (d3711j) -| (d3711a);
\draw[wire] (d3711j) -| (d3711b);
\draw[wire] (d3711a) -- (d3711p2);
\draw[wire] (d3711b) -- (d3711p1);
\draw[wire] (d3711p2) -- (n3735b) -- (c3735) -- (g3735b);
\draw[wire] (n3755b) -- (n3735b);
\lab{d3711l}{1041,681}{D3711\\DAN222}
\lab{d3711n}{1039,748}{NC}
\lab[3.9]{c3735l}{1030,777}{C3735\\0.1u\\25V\\Z}

\node[jdot] (n3744a) at (758.7,882.3) {};
\node[resh] (r3744) at (809.3,882.3) {};
\node[resh] (r3747) at (848.3,882.3) {};
\node[jdot] (n3744b) at (893,882.3) {};
\node[resv] (r3749) at (893,932.3) {};
\node[gnd] (g3749) at (893,955.5) {};
\coordinate (c719) at (719.3,882.3);
\node[jdot] (n1229a) at (322.7,1228.7) {};
\node[jdot] (n1229b) at (646.7,1228.7) {};
\draw[wire] (c719) -- (n3744a) -- (r3744) -- (r3747) -- (n3744b);
\draw[gwire] (q3707ea) -- (n3744a);
\draw[gwire] (ic2) -- (n3744b) -- (r3749) -- (g3749);
\draw[gwire] (w1229) -- (n1229a) -- (n1229b) -| (c719);
\lab[3.2]{r3744l}{799.3,890.7}{•R3744\\\ 24K\\\ F}
\lab[4.2]{r3747l}{835.7,891.3}{R3747\\12K\\F}
\lab[3.3]{r3749l}{899,928}{R3749\\10K\\F}

\pic (q3705) at (473.3,1285) {fmy};
\pic (q3709) at (970.7,1284.7) {fmy};

\node[jdot] (n3739a) at (322.7,1251) {};
\node[resh] (r3739) at (350.7,1251) {};
\node[jdot] (n3736t) at (384.3,1251) {};
\node[capn] (c3736) at (384.3,1290.3) {};
\node[gnd] (g3736) at (384.3,1308) {};
\node[jdot] (n3728a) at (429,1268) {};
\node[resv] (r3728) at (429,1301.7) {};
\node[gnd] (g3728b) at (429,1324.5) {};
\coordinate (c322b) at (322.7,1351.7);
\coordinate (c429t) at (429,1206.3);
\draw[gwire] (n1229a) -- (n3739a) -- (c322b) -| (q3705p2);
\draw[wire] (n3739a) -- (r3739) -- (n3736t) -| (q3705p4);
\draw[wire] (n3736t) -- (c3736) -- (g3736);
\draw[wire] (w1206) -- (c429t) -- (n3728a) -- (r3728) -- (g3728b);
\draw[wire] (n3728a) -| (q3705p3);
\lab[4.2]{r3739l}{340,1235.3}{R3739\\2.2K}
\lab[3.8]{c3736l}{350,1277}{C3736\\1u\\10V\\1025CE}
\lab[3]{r3728l}{396.7,1294.7}{R3728\\10K\\1/10W}
\blab{q3705l}{509.3,1240}{Q3705\\\ FMY3}
\volt{v182}{477.3,1274.7}{18.2}
\volt{v188}{505.7,1274.7}{18.8}
\volt{v183}{533.7,1274.7}{18.3}
\lab{v23}{480,1336}{23}
\lab{v0b}{537.7,1336}{0}

\node[jdot] (n3712t) at (596.7,1279) {};
\node[capn] (c3712) at (596.7,1301.7) {};
\node[gnd] (g3712) at (596.7,1319) {};
\node[resh] (r3723) at (621.7,1279) {};
\node[jdot] (n3707b) at (646.7,1279) {};
\node[resv] (r3707) at (646.7,1256.7) {};
\node[resv] (r3719) at (646.7,1301.7) {};
\node[gnd] (g3719) at (646.7,1325) {};
\node[gnd] (g3705) at (529.7,1347.5) {};
\coordinate (c5a) at (529.7,1262.3);
\coordinate (c5b) at (596.7,1262.3);
\draw[wire] (q3705p5) -- (c5a) -- (c5b) -- (n3712t);
\draw[wire] (n3712t) -- (c3712) -- (g3712);
\draw[wire] (n3712t) -- (r3723) -- (n3707b);
\draw[gwire] (n1229b) -- (r3707) -- (n3707b) -- (r3719) -- (g3719);
\draw[wire] (q3705p1) -- (g3705);
\lab[4]{r3723l}{611,1263.7}{R3723\\1K}
\lab[3.8]{c3712l}{562.7,1288.3}{C3712\\1u\\10V\\1025CE}
\lab[3]{r3707l}{652.7,1252}{R3707\\3.3K\\F}
\lab[3.1]{r3719l}{653.3,1296.7}{•R3719\\\ 12K\\\ F}

\node[resv] (r3738) at (758.7,1135) {};
\node[resv] (r3740) at (758.7,1168.3) {};
\node[resv] (r3741) at (758.7,1201.7) {};
\node[jdot] (n3745a) at (758.7,1228.3) {};
\node[resv] (r3742) at (758.7,1255) {};
\node[resv] (r3743) at (758.7,1291.7) {};
\node[gnd] (g3743) at (758.7,1313) {};
\node[resh] (r3745) at (809,1228.3) {};
\node[jdot] (n3731t) at (836.7,1228.3) {};
\node[capn] (c3731) at (836.7,1251.7) {};
\node[gnd] (g3731) at (836.7,1269) {};
\coordinate (c5c) at (1026.7,1228.3);
\draw[gwire] (n3744a) -- (r3738) -- (r3740) -- (r3741) -- (n3745a) -- (r3742) -- (r3743) -- (g3743);
\draw[gwire] (n3745a) -- (r3745) -- (n3731t) -- (c5c) -- (q3709p5);
\draw[gwire] (n3731t) -- (c3731) -- (g3731);
\lab[2.9]{r3738l}{764.7,1129.3}{•R3738\\\ 12K\\F}
\lab[3]{r3740l}{764.7,1162.7}{R3740\\1.8K\\F}
\lab[3.2]{r3741l}{764.7,1196}{R3741\\1.2K\\F}
\lab[3.2]{r3742l}{764.7,1249.3}{R3742\\6.8K\\F}
\lab[3]{r3743l}{764.7,1285.7}{R3743\\1.2K\\F}
\lab[3.8]{r3745l}{797.3,1215.3}{R3745\\1K}
\lab[3.7]{c3731l}{825.3,1283.7}{C3731\\1u\\10V\\1025CE}

\node[jdot] (n3750t) at (904,1245.3) {};
\coordinate (c3732t) at (886.7,1245.3);
\node[capn] (c3732) at (886.7,1262.3) {};
\node[gnd] (g3732) at (886.7,1279.5) {};
\coordinate (c4a) at (998.7,1245.3);
\node[resv] (r3750) at (904,1324) {};
\draw[wire] (c3732t) -- (n3750t) -- (c4a);
\draw[gwire] (c4a) -- (q3709p4);
\draw[wire] (c3732t) -- (c3732) -- (g3732);
\draw[gwire] (n3750t) -- (r3750) -- (n736b);
\draw[gwire] (c514) -- (n736b) -| (q3709p2);
\lab[3.8]{c3732l}{852.7,1249.3}{C3732\\1u\\10V\\1025CE}
\lab[3.3]{r3750l}{873.3,1320.7}{R3750\\390}

\node[jdot] (n3754a) at (971,1262.3) {};
\coordinate (c3754) at (937.3,1262.3);
\coordinate (c1072) at (1071.7,1262.3);
\node[resv] (r3754) at (937.3,1291) {};
\node[gnd] (g3754) at (937.3,1313) {};
\node[gnd] (g3709) at (1026.7,1346.5) {};
\draw[gwire] (w446) -| (c1072);
\draw[wire] (c1072) -- (n3754a) -- (c3754) -- (r3754) -- (g3754);
\draw[wire] (n3754a) -- (q3709p3);
\draw[wire] (q3709p1) -- (g3709);
\lab[2.9]{r3754l}{925,1326.3}{R3754\\10K\\1/10W}
\blab{q3709l}{986,1351.3}{Q3709\\\ FMY3}
\volt{v8}{974,1274.3}{8}
\volt{v87}{1002,1274.3}{8.7}
\volt{v81}{1030,1274.3}{8.1}
\volt{v96}{978.3,1335}{9.6}
\lab{v0c}{1036.7,1335}{0}

\node[circle,draw,line width=.4pt,inner sep=0pt,minimum size=5.9pt] (tp3701) at (1099.7,1368.7) {};
\coordinate (tpc) at (1071.7,1368.7);
\node[gnd] (gtp) at (1071.7,1382) {};
\draw[wire] (tp3701) -- (tpc) -- (gtp);
\lab[3.3]{tp3701l}{1093,1349.7}{TP3701\\HA002WJ}
\end{tikzpicture}
\end{document}
